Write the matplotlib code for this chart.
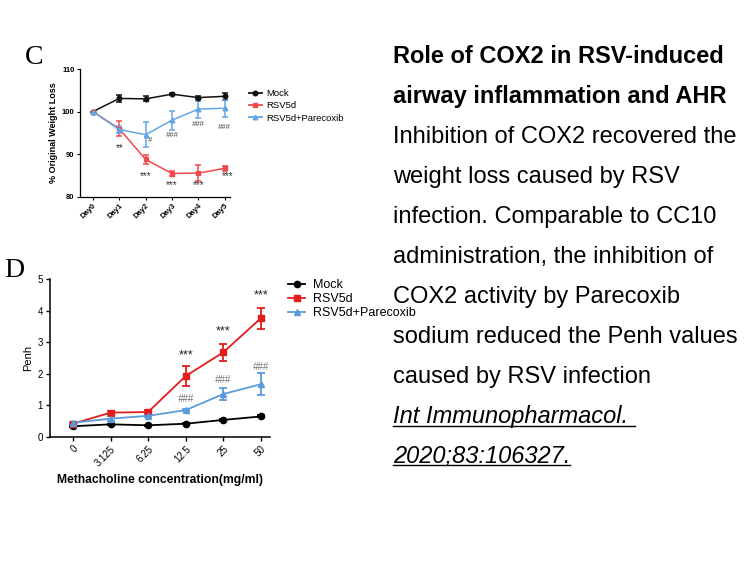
import numpy as np
import matplotlib
matplotlib.use('Agg')
import matplotlib.pyplot as plt
from matplotlib.lines import Line2D

plt.rcParams['font.family'] = ['Liberation Sans', 'DejaVu Sans']

# Panel C: body weight over days
days = ['Day0', 'Day1', 'Day2', 'Day3', 'Day4', 'Day5']
mock_w = [100, 103.1, 103.0, 104.1, 103.3, 103.6]
mock_w_err = [0, 0.9, 0.6, 0.3, 0.3, 0.8]
rsv_w = [100, 96.0, 88.8, 85.5, 85.6, 86.7]
rsv_w_err = [0, 1.7, 1.0, 0.5, 1.8, 0.6]
par_w = [100, 95.8, 94.6, 98.0, 100.6, 100.8]
par_w_err = [0, 0.9, 2.9, 2.2, 2.0, 2.0]
# significance marks: (day index, y value, text)
star_w = [(1, 91.6, '**'), (2, 85.1, '***'), (3, 83.0, '***'), (4, 83.0, '***'), (5.1, 85.1, '***')]
hash_w = [(2.15, 93.3, '#'), (3, 94.5, '###'), (4, 96.9, '###'), (5, 96.3, '###')]

# Panel D: Penh vs methacholine
conc = ['0', '3.125', '6.25', '12.5', '25', '50']
mock_p = [0.34, 0.40, 0.37, 0.42, 0.54, 0.65]
mock_p_err = [0.02, 0.02, 0.02, 0.02, 0.03, 0.03]
rsv_p = [0.42, 0.77, 0.79, 1.93, 2.68, 3.76]
rsv_p_err = [0.03, 0.05, 0.05, 0.32, 0.27, 0.33]
par_p = [0.45, 0.58, 0.67, 0.85, 1.36, 1.67]
par_p_err = [0.03, 0.08, 0.03, 0.03, 0.18, 0.35]
star_p = [(3, 2.62, '***'), (4, 3.38, '***'), (5, 4.52, '***')]
hash_p = [(3, 1.19, '###'), (4, 1.79, '###'), (5, 2.22, '###')]

text_lines = [
    ('Role of COX2 in RSV-induced', 'bold'),
    ('airway inflammation and AHR', 'bold'),
    ('Inhibition of COX2 recovered the', 'normal'),
    ('weight loss caused by RSV', 'normal'),
    ('infection. Comparable to CC10', 'normal'),
    ('administration, the inhibition of', 'normal'),
    ('COX2 activity by Parecoxib', 'normal'),
    ('sodium reduced the Penh values', 'normal'),
    ('caused by RSV infection', 'normal'),
]
cite_lines = ['Int Immunopharmacol. ', '2020;83:106327.']

fig = plt.figure(figsize=(7.56, 5.67), dpi=100)


def legend_handles(cols, size):
    # plain line + marker handles, no error bars in the legend
    marks = ['o', 's', '^']
    return [Line2D([], [], color=c, marker=m, markersize=size, lw=1.3) for c, m in zip(cols, marks)]


names = ['Mock', 'RSV5d', 'RSV5d+Parecoxib']

# ---- panel C ----
axc = fig.add_axes([0.1058, 0.6526, 0.198, 0.2257])
xc = np.arange(len(days))
c_cols = ['#111111', '#ef4a4a', '#62a6e4']
for y, e, col, mk in [(mock_w, mock_w_err, c_cols[0], 'o'),
                      (rsv_w, rsv_w_err, c_cols[1], 's'),
                      (par_w, par_w_err, c_cols[2], '^')]:
    axc.errorbar(xc, y, yerr=e, color=col, marker=mk, markersize=3.3, lw=1.1,
                 capsize=2, elinewidth=1.1, capthick=1.1)
for x, y, t in star_w:
    axc.text(x, y - 0.15, t, ha='center', va='center', fontsize=7, color='#333333')
for x, y, t in hash_w:
    axc.text(x, y, t, ha='center', va='center', fontsize=5.5, color='#444444', style='italic')
axc.set_xlim(-0.49, 5.19)
axc.set_ylim(80, 110)
axc.set_yticks([80, 90, 100, 110])
axc.set_xticks(xc)
axc.set_xticklabels(days, rotation=45, ha='right', rotation_mode='anchor')
axc.tick_params(labelsize=5.5, length=2.5, width=0.8, pad=1.5)
for lbl in axc.get_xticklabels() + axc.get_yticklabels():
    lbl.set_fontweight('bold')
axc.set_ylabel('% Original Weight Loss', fontsize=6.5, fontweight='bold', labelpad=3)
for s in ['top', 'right']:
    axc.spines[s].set_visible(False)
for s in ['left', 'bottom']:
    axc.spines[s].set_linewidth(0.9)
axc.legend(legend_handles(c_cols, 3.3), names, loc='upper left', bbox_to_anchor=(1.07, 0.91),
           frameon=False, fontsize=6.8, handlelength=1.4, labelspacing=0.35, handletextpad=0.5)
fig.text(0.033, 0.899, 'C', fontsize=20, family='Liberation Serif', va='center')

# ---- panel D ----
axd = fig.add_axes([0.0661, 0.2293, 0.291, 0.2787])
xd = np.arange(len(conc))
d_cols = ['#000000', '#e41c1c', '#5b9bd9']
for y, e, col, mk in [(mock_p, mock_p_err, d_cols[0], 'o'),
                      (rsv_p, rsv_p_err, d_cols[1], 's'),
                      (par_p, par_p_err, d_cols[2], '^')]:
    axd.errorbar(xd, y, yerr=e, color=col, marker=mk, markersize=4.5, lw=1.3,
                 capsize=3, elinewidth=1.3, capthick=1.3)
for x, y, t in star_p:
    axd.text(x, y - 0.05, t, ha='center', va='center', fontsize=9, color='#222222')
for x, y, t in hash_p:
    axd.text(x, y, t, ha='center', va='center', fontsize=7, color='#777777', style='italic')
axd.set_xlim(-0.61, 5.24)
axd.set_ylim(0, 5)
axd.set_yticks([0, 1, 2, 3, 4, 5])
axd.set_xticks(xd)
axd.set_xticklabels(conc, rotation=45, ha='right', rotation_mode='anchor')
axd.tick_params(labelsize=7, length=3, width=1, pad=2)
axd.set_ylabel('Penh', fontsize=8, labelpad=3)
axd.set_xlabel('Methacholine concentration(mg/ml)', fontsize=8.7, fontweight='bold', labelpad=4)
for s in ['top', 'right']:
    axd.spines[s].set_visible(False)
for s in ['left', 'bottom']:
    axd.spines[s].set_linewidth(1.1)
axd.legend(legend_handles(d_cols, 4.5), names, loc='upper left', bbox_to_anchor=(1.03, 1.07),
           frameon=False, fontsize=9, handlelength=1.4, labelspacing=0.15, handletextpad=0.6)
fig.text(0.005, 0.523, 'D', fontsize=20, family='Liberation Serif', va='center')

# ---- right-hand text ----
x0 = 393 / 756
y_px = 57
for line, weight in text_lines:
    fig.text(x0, 1 - y_px / 567, line, fontsize=17, fontweight=weight,
             va='center', ha='left', color='black')
    y_px += 40
cite_texts = []
for line in cite_lines:
    t = fig.text(x0, 1 - y_px / 567, line, fontsize=17, style='italic',
                 va='center', ha='left', color='black')
    cite_texts.append(t)
    y_px += 39

fig.canvas.draw()
r = fig.canvas.get_renderer()
for t in cite_texts:
    bb = t.get_window_extent(r).transformed(fig.transFigure.inverted())
    yl = bb.y0 + 0.004
    fig.add_artist(Line2D([bb.x0, bb.x1], [yl, yl], transform=fig.transFigure,
                          color='black', lw=1.0))

fig.savefig('out.png', dpi=100)
